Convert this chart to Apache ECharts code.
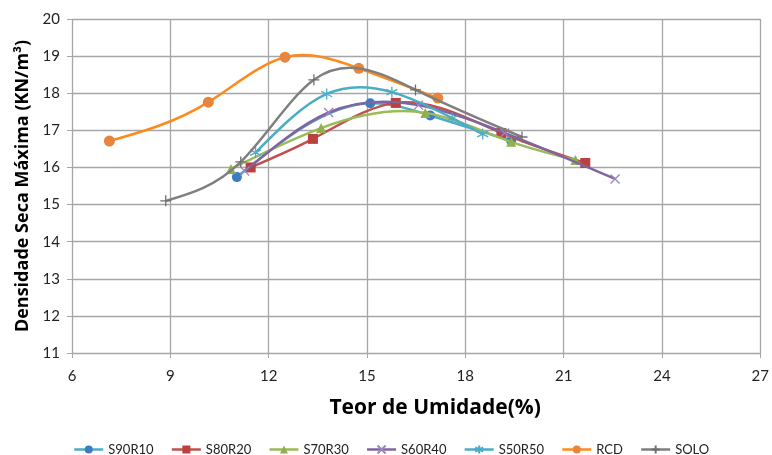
<!DOCTYPE html>
<html><head><meta charset="utf-8">
<script src="https://cdn.jsdelivr.net/npm/echarts@6/dist/echarts.min.js"></script>
<style>html,body{margin:0;padding:0;background:#fff}#c{width:772px;height:455px}</style>
</head><body><div id="c"></div>
<script>
const seriesNames = ['S90R10','S80R20','S70R30','S60R40','S50R50','RCD','SOLO'];
const S90R10 = [[11.03,15.74],[15.1,17.73],[16.93,17.4],[19.4,16.72]];
const S80R20 = [[11.45,16.0],[13.35,16.77],[15.88,17.74],[19.1,16.93],[21.66,16.12]];
const S70R30 = [[10.85,15.96],[13.6,17.06],[16.78,17.47],[19.4,16.69],[21.36,16.2]];
const S60R40 = [[11.27,15.9],[13.83,17.48],[16.57,17.68],[19.2,16.93],[22.57,15.69]];
const S50R50 = [[11.6,16.4],[13.77,17.98],[15.76,18.03],[17.6,17.33],[18.53,16.9]];
const RCD = [[7.14,16.71],[10.16,17.76],[12.5,18.97],[14.75,18.67],[17.16,17.87]];
const SOLO = [[8.86,15.1],[11.15,16.15],[13.38,18.36],[16.48,18.09],[19.73,16.82]];
const xTicks = [6,9,12,15,18,21,24,27];
const yTicks = [11,12,13,14,15,16,17,18,19,20];

const xPath = 'path://M0,0L10,10M10,0L0,10';
const starPath = 'path://M5,0L5,10M0.7,2.5L9.3,7.5M0.7,7.5L9.3,2.5';
const plusPath = 'path://M5,0L5,10M0,5L10,5';

const styles = [
  {data:S90R10, line:'#4bacc6', mark:'#3b7dc0', symbol:'circle', size:10, stroke:false},
  {data:S80R20, line:'#c0504d', mark:'#b9413e', symbol:'rect', size:10, stroke:false},
  {data:S70R30, line:'#9bbb59', mark:'#8fb04c', symbol:'triangle', size:10, stroke:false},
  {data:S60R40, line:'#8064a2', mark:'#9a85bd', symbol:xPath, size:9, stroke:true},
  {data:S50R50, line:'#4bacc6', mark:'#4bacc6', symbol:starPath, size:11, stroke:true},
  {data:RCD, line:'#ff8a1c', mark:'#e8843c', symbol:'circle', size:11, stroke:false},
  {data:SOLO, line:'#7f7f7f', mark:'#6f6f6f', symbol:plusPath, size:11, stroke:true}
];

// Smoothed curve through the marker positions (pixel space): natural cubic
// spline pieces, each written as an exact cubic Bezier segment.
function bezierSegments(p){
  const n = p.length;
  const h = [], d = [];
  for (let i=0;i<n-1;i++){ h.push(p[i+1][0]-p[i][0]); d.push((p[i+1][1]-p[i][1])/h[i]); }
  const M = new Array(n).fill(0);
  if (n > 2){
    const m = n-2, a=[], b=[], c=[], r=[];
    for (let k=0;k<m;k++){
      const i=k+1;
      a.push(h[i-1]); b.push(2*(h[i-1]+h[i])); c.push(h[i]); r.push(6*(d[i]-d[i-1]));
    }
    for (let k=1;k<m;k++){ const w=a[k]/b[k-1]; b[k]-=w*c[k-1]; r[k]-=w*r[k-1]; }
    const sol = new Array(m);
    sol[m-1]=r[m-1]/b[m-1];
    for (let k=m-2;k>=0;k--) sol[k]=(r[k]-c[k]*sol[k+1])/b[k];
    for (let k=0;k<m;k++) M[k+1]=sol[k];
  }
  const slope = [];
  for (let i=0;i<n-1;i++) slope.push(d[i]-h[i]*(2*M[i]+M[i+1])/6);
  slope.push(d[n-2]+h[n-2]*(M[n-2]+2*M[n-1])/6);
  const segs=[];
  for (let i=0;i<n-1;i++){
    const t=h[i]/3;
    segs.push({x1:p[i][0],y1:p[i][1],cpx1:p[i][0]+t,cpy1:p[i][1]+slope[i]*t,
      cpx2:p[i+1][0]-t,cpy2:p[i+1][1]-slope[i+1]*t,x2:p[i+1][0],y2:p[i+1][1]});
  }
  return segs;
}

const series = [];
styles.forEach((s,i)=>{
  const pts = s.data;
  series.push({
    name: seriesNames[i] + ' curva',
    type:'custom',
    data: pts,
    z: 2 + 2*i,
    silent:true,
    renderItem: function(params, api){
      if (params.dataIndex !== 0) return null;
      const p = pts.map(d => api.coord(d));
      return {type:'group', children: bezierSegments(p).map(sh => ({
        type:'bezierCurve', shape: sh,
        style:{stroke:s.line, lineWidth:2.5, fill:null}
      }))};
    }
  });
  series.push({
    name: seriesNames[i],
    type:'line',
    data: pts,
    symbol: s.symbol,
    symbolSize: s.size,
    showSymbol: true,
    lineStyle:{color:s.line,width:2.5,opacity:0},
    itemStyle: s.stroke ? {color:s.mark,borderColor:s.mark,borderWidth:1.3} : {color:s.mark,borderWidth:0},
    emphasis:{disabled:true},
    z: 3 + 2*i
  });
});

const legendData = styles.map((s,i)=>({name:seriesNames[i], lineStyle:{color:s.line,width:2.5,opacity:1}}));

const chart = echarts.init(document.getElementById('c'));
chart.setOption({
  animation:false,
  textStyle:{fontFamily:'Lato, "Open Sans", sans-serif'},
  grid:{left:72,right:4,top:19,bottom:102,containLabel:false},
  xAxis:{type:'value',min:xTicks[0],max:xTicks[xTicks.length-1],interval:3,
    name:'Teor de Umidade(%)',nameLocation:'middle',nameGap:45,
    nameTextStyle:{fontSize:21,fontWeight:'bold',color:'#000',fontFamily:'"Open Sans"',padding:[0,0,0,38]},
    axisLine:{show:true,lineStyle:{color:'#a6a6a6',width:1}},
    axisTick:{show:true,length:5,lineStyle:{color:'#a6a6a6'}},
    axisLabel:{fontSize:15,color:'#222',margin:16,fontFamily:'Lato'},
    splitLine:{show:true,lineStyle:{color:'#a6a6a6',width:1.3}}},
  yAxis:{type:'value',min:yTicks[0],max:yTicks[yTicks.length-1],interval:1,
    name:'Densidade Seca Máxima (KN/m³)',nameLocation:'middle',nameGap:25,
    nameTextStyle:{fontSize:18,fontWeight:'bold',color:'#000',fontFamily:'"Open Sans"'},
    axisLine:{show:false},
    axisTick:{show:true,length:5,lineStyle:{color:'#a6a6a6'}},
    axisLabel:{fontSize:15,color:'#222',margin:12,fontFamily:'Lato'},
    splitLine:{show:true,lineStyle:{color:'#a6a6a6',width:1.3}}},
  legend:{top:438,left:68,itemWidth:29,itemHeight:10,itemGap:17,
    textStyle:{fontSize:13,color:'#222',fontFamily:'Lato'},
    data:legendData},
  series: series
});
</script></body></html>
